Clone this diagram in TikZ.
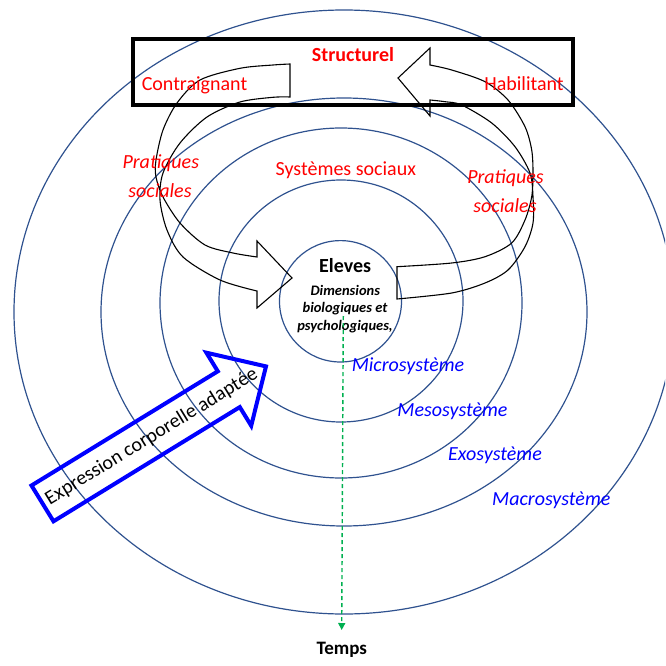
\documentclass[tikz,border=0pt]{standalone}
\usepackage{fontspec}
\setmainfont{Carlito}
\usetikzlibrary{arrows.meta}
\definecolor{ringblue}{RGB}{47,82,143}
\definecolor{tgreen}{RGB}{0,176,80}
\definecolor{txtred}{RGB}{255,0,0}
\definecolor{txtblue}{RGB}{0,0,255}
\begin{document}
\begin{tikzpicture}[x=1pt,y=-1pt,
  ring/.style={draw=ringblue, line width=1.2pt},
  ribbon/.style={draw=black, line width=1.1pt, line join=miter},
  lbl/.style={inner sep=0pt, anchor=base, font=\fontsize{20}{24}\selectfont},
  redlbl/.style={lbl, text=txtred},
  redit/.style={lbl, text=txtred, font=\fontsize{20}{24}\selectfont\itshape},
  bluelbl/.style={lbl, text=txtblue, font=\fontsize{20}{24}\selectfont\itshape},
  smalllbl/.style={inner sep=0pt, anchor=base, font=\fontsize{14.5}{17}\selectfont\bfseries\itshape},
  bigarrow/.style={draw=txtblue, line width=4pt, line join=miter},
  frame/.style={draw=black, line width=4pt}
]
\useasboundingbox (0,0) rectangle (665,666);
\clip (0,0) rectangle (665,666);

% concentric systems
\draw[ring] (344,312) ellipse [x radius=330pt, y radius=302pt];
\draw[ring] (344,312) ellipse [x radius=243pt, y radius=214pt];
\draw[ring] (341,303) ellipse [x radius=181pt, y radius=175pt];
\draw[ring] (341,301) ellipse [x radius=122pt, y radius=121pt];
\draw[ring] (340.5,301.3) ellipse [x radius=61pt, y radius=60.7pt];

% left curved block arrow
\draw[ribbon] (290,64) -- (290,97)
  -- plot[smooth] coordinates {(290,97) (273,97.3) (240,102) (207,117) (180,143) (163,173) (160,200) (167,230) (183,257) (220,280) (257,291)}
  -- (257,308) -- (292,278) -- (257,241) -- (257,257)
  -- plot[smooth] coordinates {(257,257) (233,253) (205,245) (180,223) (163,197) (156,177) (156,160) (163,130) (177,103) (200,80) (240,68.3) (273,65) (290,64)}
  -- cycle;

% right curved block arrow
\draw[ribbon] (430,65)
  -- plot[smooth] coordinates {(430,65) (451.7,70) (485,81.7) (508,100) (525,126.7) (531.7,150) (533,173) (531.7,196.7) (525,220) (511.7,243) (485,256.7) (451.7,263) (397,266.7)}
  -- (397,299)
  -- plot[smooth] coordinates {(397,299) (451.7,293) (485,283) (508,270) (525,246.7) (533,223) (533,196.7) (530,173) (515,146.7) (491.7,123) (461.7,105) (445,101.7) (430,100)}
  -- (430,116) -- (398,78) -- (430,48) -- cycle;

% structural frame
\draw[frame] (133,39.5) rectangle (573,105.3);

% blue block arrow
\draw[bigarrow] (31.5,485.5) -- (217.8,371.3) -- (206.4,352.7) -- (266,366.4)
  -- (251.2,425.7) -- (239.8,407.1) -- (53.5,521.3) -- cycle;
\node[lbl, rotate=31.5] (expr) at (154.3,441.4) {Expression corporelle adaptée};

% labels
\node[redlbl, font=\fontsize{20}{24}\selectfont\bfseries] (struct) at (353,62) {Structurel};
\node[redlbl] (contr) at (194.5,91) {Contraignant};
\node[redlbl] (habil) at (524,91) {Habilitant};
\node[redit] (pratL1) at (160.8,168.3) {Pratiques};
\node[redit] (pratL2) at (160,197.3) {sociales};
\node[redlbl] (syst) at (345.8,175) {Systèmes sociaux};
\node[redit] (pratR1) at (505.5,183.3) {Pratiques};
\node[redit] (pratR2) at (505,212) {sociales};

\node[lbl, font=\fontsize{20}{24}\selectfont\bfseries] (eleves) at (345.2,272.7) {Eleves};
\node[smalllbl] (dim1) at (345.3,295.5) {Dimensions};
\node[smalllbl] (dim2) at (345,312) {biologiques et};
\node[smalllbl] (dim3) at (345,330) {psychologiques,};

\node[bluelbl] (micro) at (408,371.5) {Microsystème};
\node[bluelbl] (meso) at (452.5,416.7) {Mesosystème};
\node[bluelbl] (exo) at (495,460.7) {Exosystème};
\node[bluelbl] (macro) at (551.3,505) {Macrosystème};

\node[lbl, font=\fontsize{19}{23}\selectfont\bfseries] (temps) at (341.8,654) {Temps};

% time arrow
\coordinate (tstart) at (343.3,316);
\coordinate (tend) at (341.7,630);
\draw[tgreen, line width=1.4pt, dash pattern=on 4pt off 3pt,
  -{Triangle[length=7pt,width=7pt]}] (tstart) -- (tend);
\end{tikzpicture}
\end{document}
